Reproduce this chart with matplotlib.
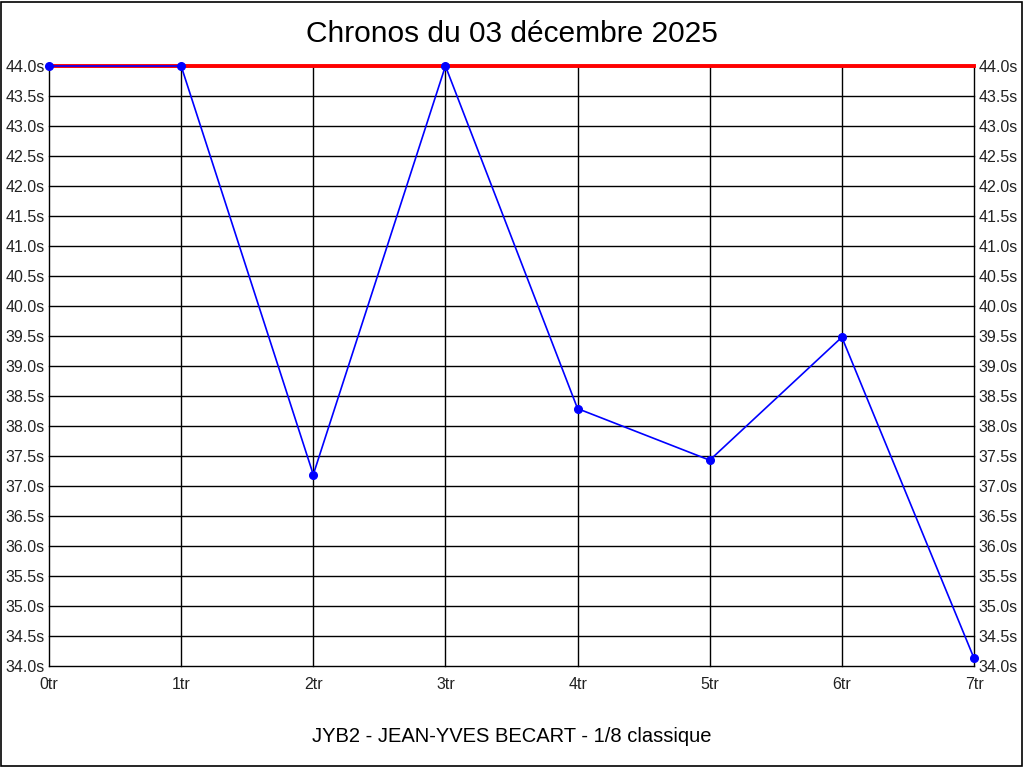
import numpy as np
import matplotlib.pyplot as plt
from matplotlib.patches import Rectangle

plt.rcParams['font.family'] = ['Liberation Sans', 'DejaVu Sans']

# Données
tours = ['0tr', '1tr', '2tr', '3tr', '4tr', '5tr', '6tr', '7tr']
chronos = [44.0, 44.0, 37.19, 44.0, 38.29, 37.43, 39.48, 34.13]
y_ticks = [34.0 + 0.5 * i for i in range(21)]
ligne_max = 44.0

fig = plt.figure(figsize=(10.24, 7.68), dpi=100)
fig.patches.append(Rectangle((0.001, 0.002), 0.997, 0.996, transform=fig.transFigure,
                             fill=False, edgecolor='black', linewidth=1.2))
ax = fig.add_axes([49 / 1024, 1 - 666 / 768, 925 / 1024, 600 / 768])

x = np.arange(len(tours))
ax.grid(True, color='black', linewidth=1)
for g in ax.get_xgridlines() + ax.get_ygridlines():
    g.set_clip_on(False)
ax.axhline(ligne_max, color='red', linewidth=2.8, zorder=3, clip_on=False)
ax.plot(x, chronos, color='blue', linewidth=1.2, marker='o', markersize=5.5, zorder=4, clip_on=False)

ax.set_xlim(0, len(tours) - 1)
ax.set_ylim(34.0, 44.0)
ax.set_xticks(x)
ax.set_xticklabels(tours)
ax.set_yticks(y_ticks)
ax.set_yticklabels([f'{v:.1f}s' for v in y_ticks])
ax.tick_params(axis='both', length=0, labelsize=11.5, colors='#222222')
ax.tick_params(axis='x', pad=8)
ax.tick_params(axis='y', pad=3, right=True, labelright=True)
for s in ax.spines.values():
    s.set_visible(False)

fig.text(0.5, 1 - 34 / 768, 'Chronos du 03 décembre 2025', ha='center', va='center', fontsize=21.5)
fig.text(0.5, 1 - 736 / 768, 'JYB2 - JEAN-YVES BECART - 1/8 classique', ha='center', va='center', fontsize=14.5)

fig.savefig('out.png', dpi=100)
